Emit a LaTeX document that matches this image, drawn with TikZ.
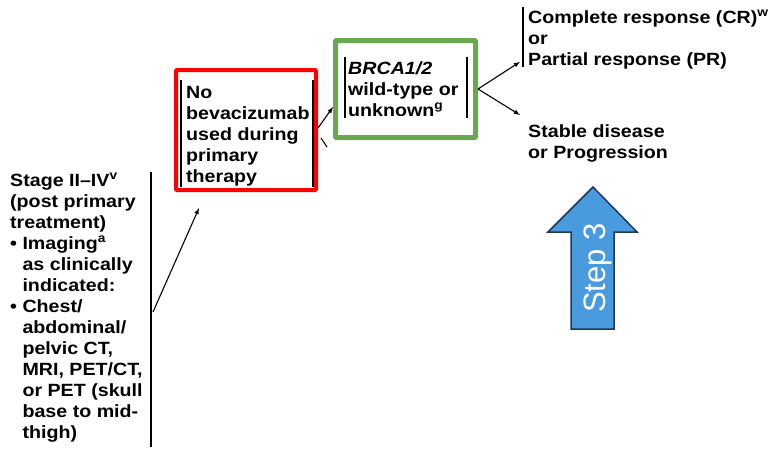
\documentclass[tikz,border=0pt]{standalone}
\usepackage{fontspec}
\newfontfamily\chartfont[FakeStretch=1.11]{Liberation Sans}
\newfontfamily\stepfont{Liberation Sans}
\usetikzlibrary{arrows}
\definecolor{boxred}{RGB}{255,0,0}
\definecolor{boxgreen}{RGB}{106,168,79}
\definecolor{stepblue}{RGB}{74,155,221}
\definecolor{stepedge}{RGB}{31,56,90}
% labels are placed by the baseline of their last line
\tikzset{lbl/.style={anchor=base west,align=left,inner sep=0pt,
    font=\chartfont\bfseries\fontsize{17.7}{21}\selectfont}}
\tikzset{bar/.style={line width=2pt}}
\tikzset{link/.style={->,>=latex,line width=1.1pt}}
\newcommand{\ind}{\phantom{• }}

\begin{document}
\begin{tikzpicture}[x=1pt,y=-1pt]
\useasboundingbox (0,0) rectangle (774,453);
% staging column
\node (stage) [lbl] at (10,438) {Stage II–IV\textsuperscript{v}\\(post primary\\treatment)\\
  • Imaging\textsuperscript{a}\\\ind as clinically\\\ind indicated:\\
  • Chest/\\\ind abdominal/\\\ind pelvic CT,\\\ind MRI, PET/CT,\\
  \ind or PET (skull\\\ind base to mid-\\\ind thigh)};
\draw[bar] (151,172) -- (151,447);
\coordinate (stagefork) at (153,312);
%
\node (nobevbox) [draw=boxred,line width=4pt,rounded corners=1pt,inner sep=0pt,
  minimum width=140pt,minimum height=120pt] at (246,130) {};
\node (nobev) [lbl] at (186,182) {No\\bevacizumab\\used during\\primary\\therapy};
\draw[bar] (181,80) -- (181,187);
\draw[bar] (313,80) -- (313,187);
%
\node (brcabox) [draw=boxgreen,line width=5pt,rounded corners=1pt,inner sep=0pt,
  minimum width=140pt,minimum height=97pt] at (405.5,89) {};
\node (brca) [lbl] at (348,116) {\textit{BRCA1/2}\\wild-type or\\unknown\textsuperscript{g}};
\draw[bar] (344.5,57) -- (344.5,118);
\draw[bar] (467,57) -- (467,118);
%
\node (resp) [lbl] at (528,65) {Complete response (CR)\textsuperscript{w}\\or\\Partial response (PR)};
\draw[bar] (523,7) -- (523,67);
\node (stable) [lbl] at (528,158) {Stable disease\\or Progression};
%
\draw[link] (stagefork) -- ([xshift=-47pt,yshift=-16pt]nobevbox.south);
\draw[link] ([yshift=2pt]nobevbox.east) -- ([yshift=-18pt]brcabox.west);
\coordinate (stub) at ([xshift=9pt,yshift=-17pt]nobevbox.east);
\draw[line width=1.1pt] ([xshift=3pt,yshift=-8pt]nobevbox.east) -- (stub);
\draw[link] (brcabox.east) -- ([xshift=-8pt,yshift=7pt]resp.south west);
\draw[link] (brcabox.east) -- ([xshift=-8pt,yshift=9pt]stable.north west);
%
% block arrow
\draw[draw=stepedge,fill=stepblue,line width=1.5pt,line join=miter]
  (571,329) -- (571,232) -- (548,232) -- (593,187) -- (637,232) -- (614,232) -- (614,329) -- cycle;
\node (step3) [rotate=90,text=white,inner sep=0pt,
  font=\stepfont\fontsize{31}{31}\selectfont] at (598,268) {Step 3};
\end{tikzpicture}
\end{document}
